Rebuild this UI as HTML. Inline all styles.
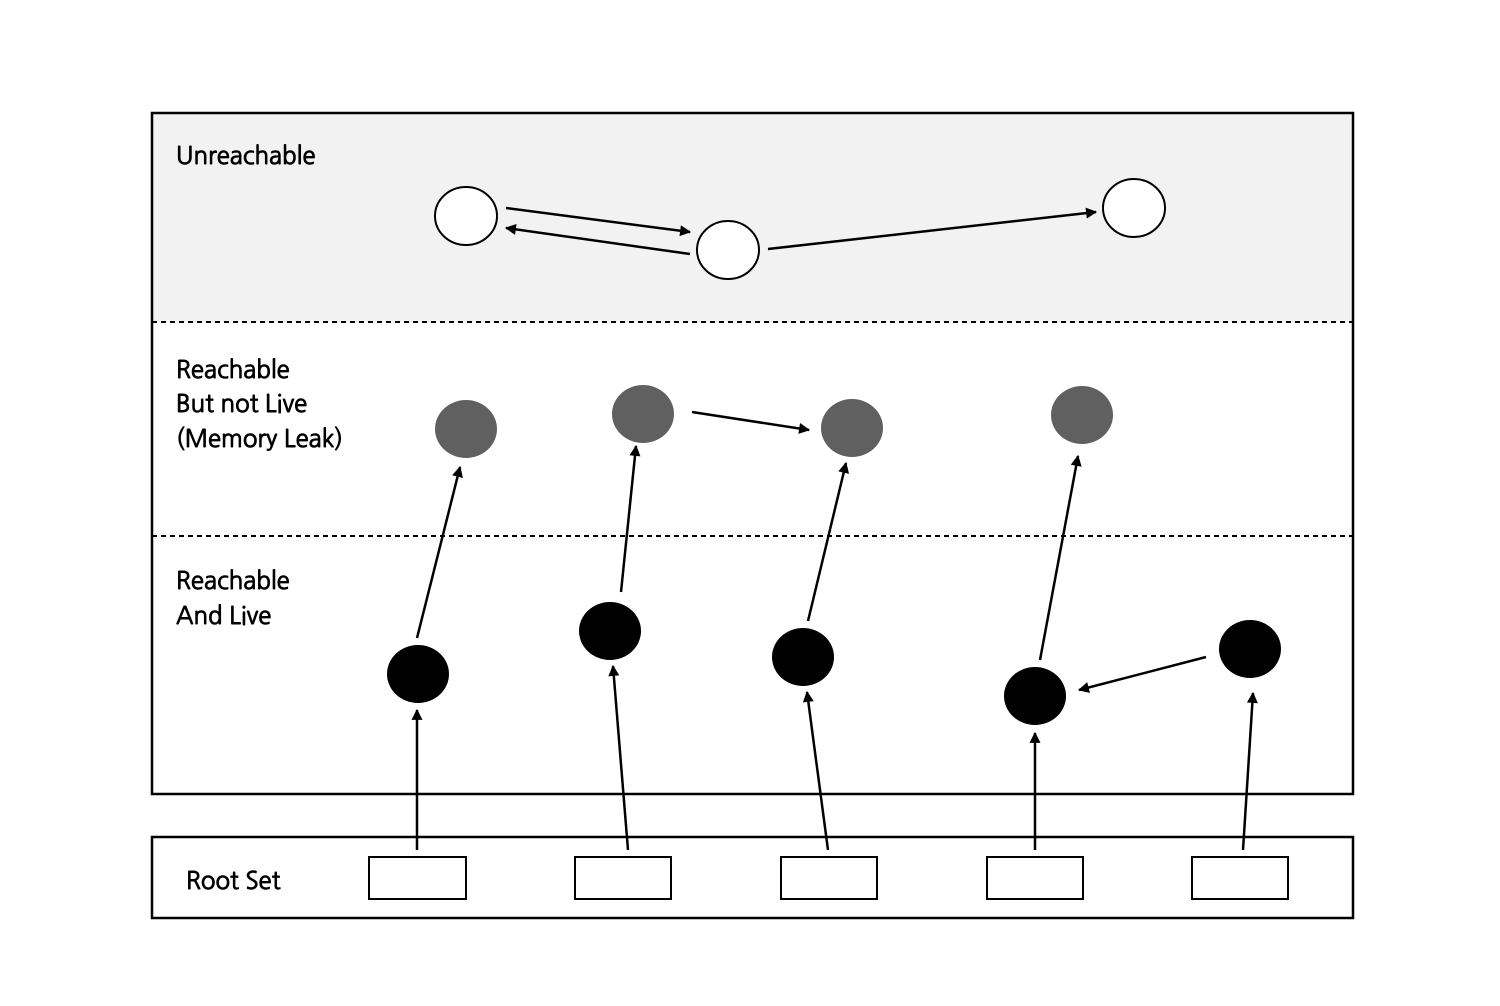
<!DOCTYPE html>
<html><head><meta charset="utf-8"><style>html,body{margin:0;padding:0;background:#fff}svg{display:block}text{font-family:"NanumGothic","Liberation Sans",sans-serif;font-size:24px;fill:#000;stroke:#000;stroke-width:0.9}</style></head>
<body>
<svg width="1500" height="1006" viewBox="0 0 1500 1006" xmlns="http://www.w3.org/2000/svg">
<defs><marker id="a" viewBox="0 0 10 10" refX="9" refY="5" markerWidth="12" markerHeight="11" markerUnits="userSpaceOnUse" orient="auto"><path d="M0,0L10,5L0,10z" fill="#000"/></marker></defs>
<rect x="152" y="113" width="1201" height="209" fill="#f2f2f2"/>
<rect x="152" y="113" width="1201" height="681" fill="none" stroke="#000" stroke-width="2.5"/>
<line x1="152" y1="322" x2="1353" y2="322" stroke="#000" stroke-width="2" stroke-dasharray="5,4"/>
<line x1="152" y1="536" x2="1353" y2="536" stroke="#000" stroke-width="2" stroke-dasharray="5,4"/>
<rect x="152" y="837" width="1201" height="81" fill="#fff" stroke="#000" stroke-width="2.5"/>
<text x="176" y="164">Unreachable</text>
<text x="176" y="378">Reachable</text>
<text x="176" y="412">But not Live</text>
<text x="176" y="447">(Memory Leak)</text>
<text x="176" y="589">Reachable</text>
<text x="176" y="624">And Live</text>
<text x="186" y="889">Root Set</text>
<g fill="#fff" stroke="#000" stroke-width="2">
<rect x="369" y="857" width="97" height="42"/><rect x="575" y="857" width="96" height="42"/><rect x="781" y="857" width="96" height="42"/><rect x="987" y="857" width="96" height="42"/><rect x="1192" y="857" width="96" height="42"/>
<ellipse cx="466" cy="216" rx="31" ry="29"/><ellipse cx="728" cy="250" rx="31" ry="29"/><ellipse cx="1134" cy="208" rx="31" ry="29"/>
</g>
<g fill="#606060"><ellipse cx="466" cy="429" rx="31" ry="29"/><ellipse cx="643" cy="414" rx="31" ry="29"/><ellipse cx="852" cy="428" rx="31" ry="29"/><ellipse cx="1082" cy="415" rx="31" ry="29"/></g>
<g fill="#000"><ellipse cx="418" cy="674" rx="31" ry="29"/><ellipse cx="610" cy="631" rx="31" ry="29"/><ellipse cx="803" cy="657" rx="31" ry="29"/><ellipse cx="1035" cy="696" rx="31" ry="29"/><ellipse cx="1250" cy="649" rx="31" ry="29"/></g>
<g stroke="#000" stroke-width="2.5" marker-end="url(#a)">
<line x1="506" y1="208" x2="690" y2="232"/><line x1="690" y1="254" x2="506" y2="228"/><line x1="768" y1="249" x2="1096" y2="212"/>
<line x1="692" y1="412" x2="809" y2="430"/>
<line x1="417" y1="638" x2="460" y2="467"/><line x1="621" y1="592" x2="636" y2="446"/><line x1="808" y1="621" x2="846" y2="463"/><line x1="1040" y1="660" x2="1078" y2="456"/>
<line x1="1206" y1="657" x2="1079" y2="690"/>
<line x1="417" y1="850" x2="417" y2="710"/><line x1="628" y1="850" x2="613" y2="666"/><line x1="828" y1="850" x2="807" y2="692"/><line x1="1035" y1="850" x2="1035" y2="733"/><line x1="1243" y1="850" x2="1253" y2="693"/>
</g>
</svg>
</body></html>
